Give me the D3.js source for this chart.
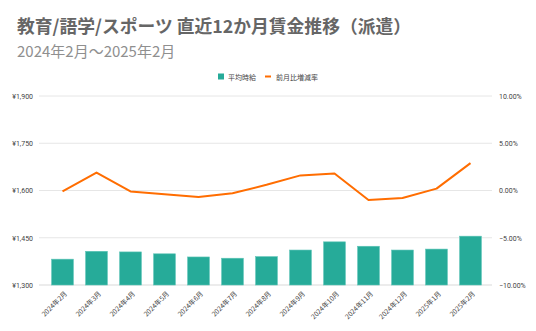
<!DOCTYPE html>
<html><head><meta charset="utf-8">
<script src="https://cdn.jsdelivr.net/npm/d3@7"></script>
<style>
body{margin:0;background:#fff;}
svg{display:block;}
</style></head>
<body>
<svg id="c" width="536" height="331"></svg>
<script>
const categories = ["2024年2月","2024年3月","2024年4月","2024年5月","2024年6月","2024年7月","2024年8月","2024年9月","2024年10月","2024年11月","2024年12月","2025年1月","2025年2月"];
const wage = [1382,1407,1405,1399,1389,1385,1390,1411,1437,1423,1411,1414,1455];
const changeRate = [-0.1,1.9,-0.1,-0.4,-0.7,-0.3,0.6,1.6,1.8,-1.0,-0.8,0.2,2.9];
const leftTicks = [1300,1450,1600,1750,1900];
const rightTicks = [-10,-5,0,5,10];
const title = "教育/語学/スポーツ 直近12か月賃金推移（派遣）";
const subtitle = "2024年2月～2025年2月";
const legendLabels = ["平均時給","前月比増減率"];

const svg = d3.select("#c");
const jp = "'Noto Sans CJK JP', 'Noto Sans', sans-serif";
const num = "Roboto, 'Noto Sans CJK JP', sans-serif";
const plotL = 39, plotR = 492, plotT = 96, plotB = 285;

const x = d3.scaleBand().domain(categories).range([45.5, 487.5]).paddingInner(0.36).paddingOuter(0.18);
const yL = d3.scaleLinear().domain([1300,1900]).range([plotB, plotT]);
const yR = d3.scaleLinear().domain([-10,10]).range([plotB, plotT]);

svg.append("text").attr("x",17).attr("y",33).attr("font-family",jp).attr("font-weight","bold")
  .attr("font-size",17.8).attr("fill","#666").text(title);
svg.append("text").attr("x",17).attr("y",57).attr("font-family",jp)
  .attr("font-size",15).attr("fill","#8f8f8f").text(subtitle);

// grid
svg.append("g").selectAll("line").data(leftTicks).join("line")
  .attr("x1",plotL).attr("x2",plotR)
  .attr("y1",d=>yL(d)).attr("y2",d=>yL(d))
  .attr("stroke",(d,i)=>i===0?"#d9d9d9":"#e6e6e6").attr("stroke-width",1);

// left axis
const la = svg.append("g").attr("transform",`translate(${plotL-3},0)`)
  .call(d3.axisLeft(yL).tickValues(leftTicks).tickSize(0).tickFormat(d=>"¥"+d3.format(",")(d)));
la.select(".domain").remove();
la.selectAll("text").attr("font-family",num).attr("font-size",7).attr("fill","#444").attr("dy","0.32em");

// right axis
const ra = svg.append("g").attr("transform",`translate(${plotR+4},0)`)
  .call(d3.axisRight(yR).tickValues(rightTicks).tickSize(0).tickFormat(d=>d3.format(".2f")(d)+"%"));
ra.select(".domain").remove();
ra.selectAll("text").attr("font-family",num).attr("font-size",7).attr("fill","#444").attr("dy","0.32em");

// bars
svg.append("g").selectAll("rect").data(wage).join("rect")
  .attr("x",(d,i)=>x(categories[i])).attr("width",x.bandwidth())
  .attr("y",d=>yL(d)).attr("height",d=>plotB-yL(d))
  .attr("fill","#26ab99").attr("stroke","#5cc4b6").attr("stroke-width",0.6);

// line
const line = d3.line().x((d,i)=>x(categories[i])+x.bandwidth()/2).y(d=>yR(d));
svg.append("path").datum(changeRate).attr("d",line).attr("fill","none")
  .attr("stroke","#ff6d01").attr("stroke-width",2).attr("stroke-linejoin","round");

// x labels
const xa = svg.append("g").attr("transform",`translate(0,${plotB})`)
  .call(d3.axisBottom(x).tickSize(0));
xa.select(".domain").remove();
xa.selectAll("text").attr("font-family",jp).attr("font-size",6.8).attr("fill","#444")
  .attr("text-anchor","end").attr("dy",0)
  .attr("transform","translate(3,7) rotate(-45)");

// legend
const lg = svg.append("g");
lg.append("rect").attr("x",218).attr("y",73.5).attr("width",6).attr("height",6).attr("fill","#26ab99");
lg.append("text").attr("x",228).attr("y",79.5).attr("font-family",jp).attr("font-size",7).attr("fill","#444").text(legendLabels[0]);
lg.append("line").attr("x1",265).attr("x2",271).attr("y1",76.5).attr("y2",76.5).attr("stroke","#ff6d01").attr("stroke-width",2);
lg.append("text").attr("x",276).attr("y",79.5).attr("font-family",jp).attr("font-size",7).attr("fill","#444").text(legendLabels[1]);
</script>
</body></html>
